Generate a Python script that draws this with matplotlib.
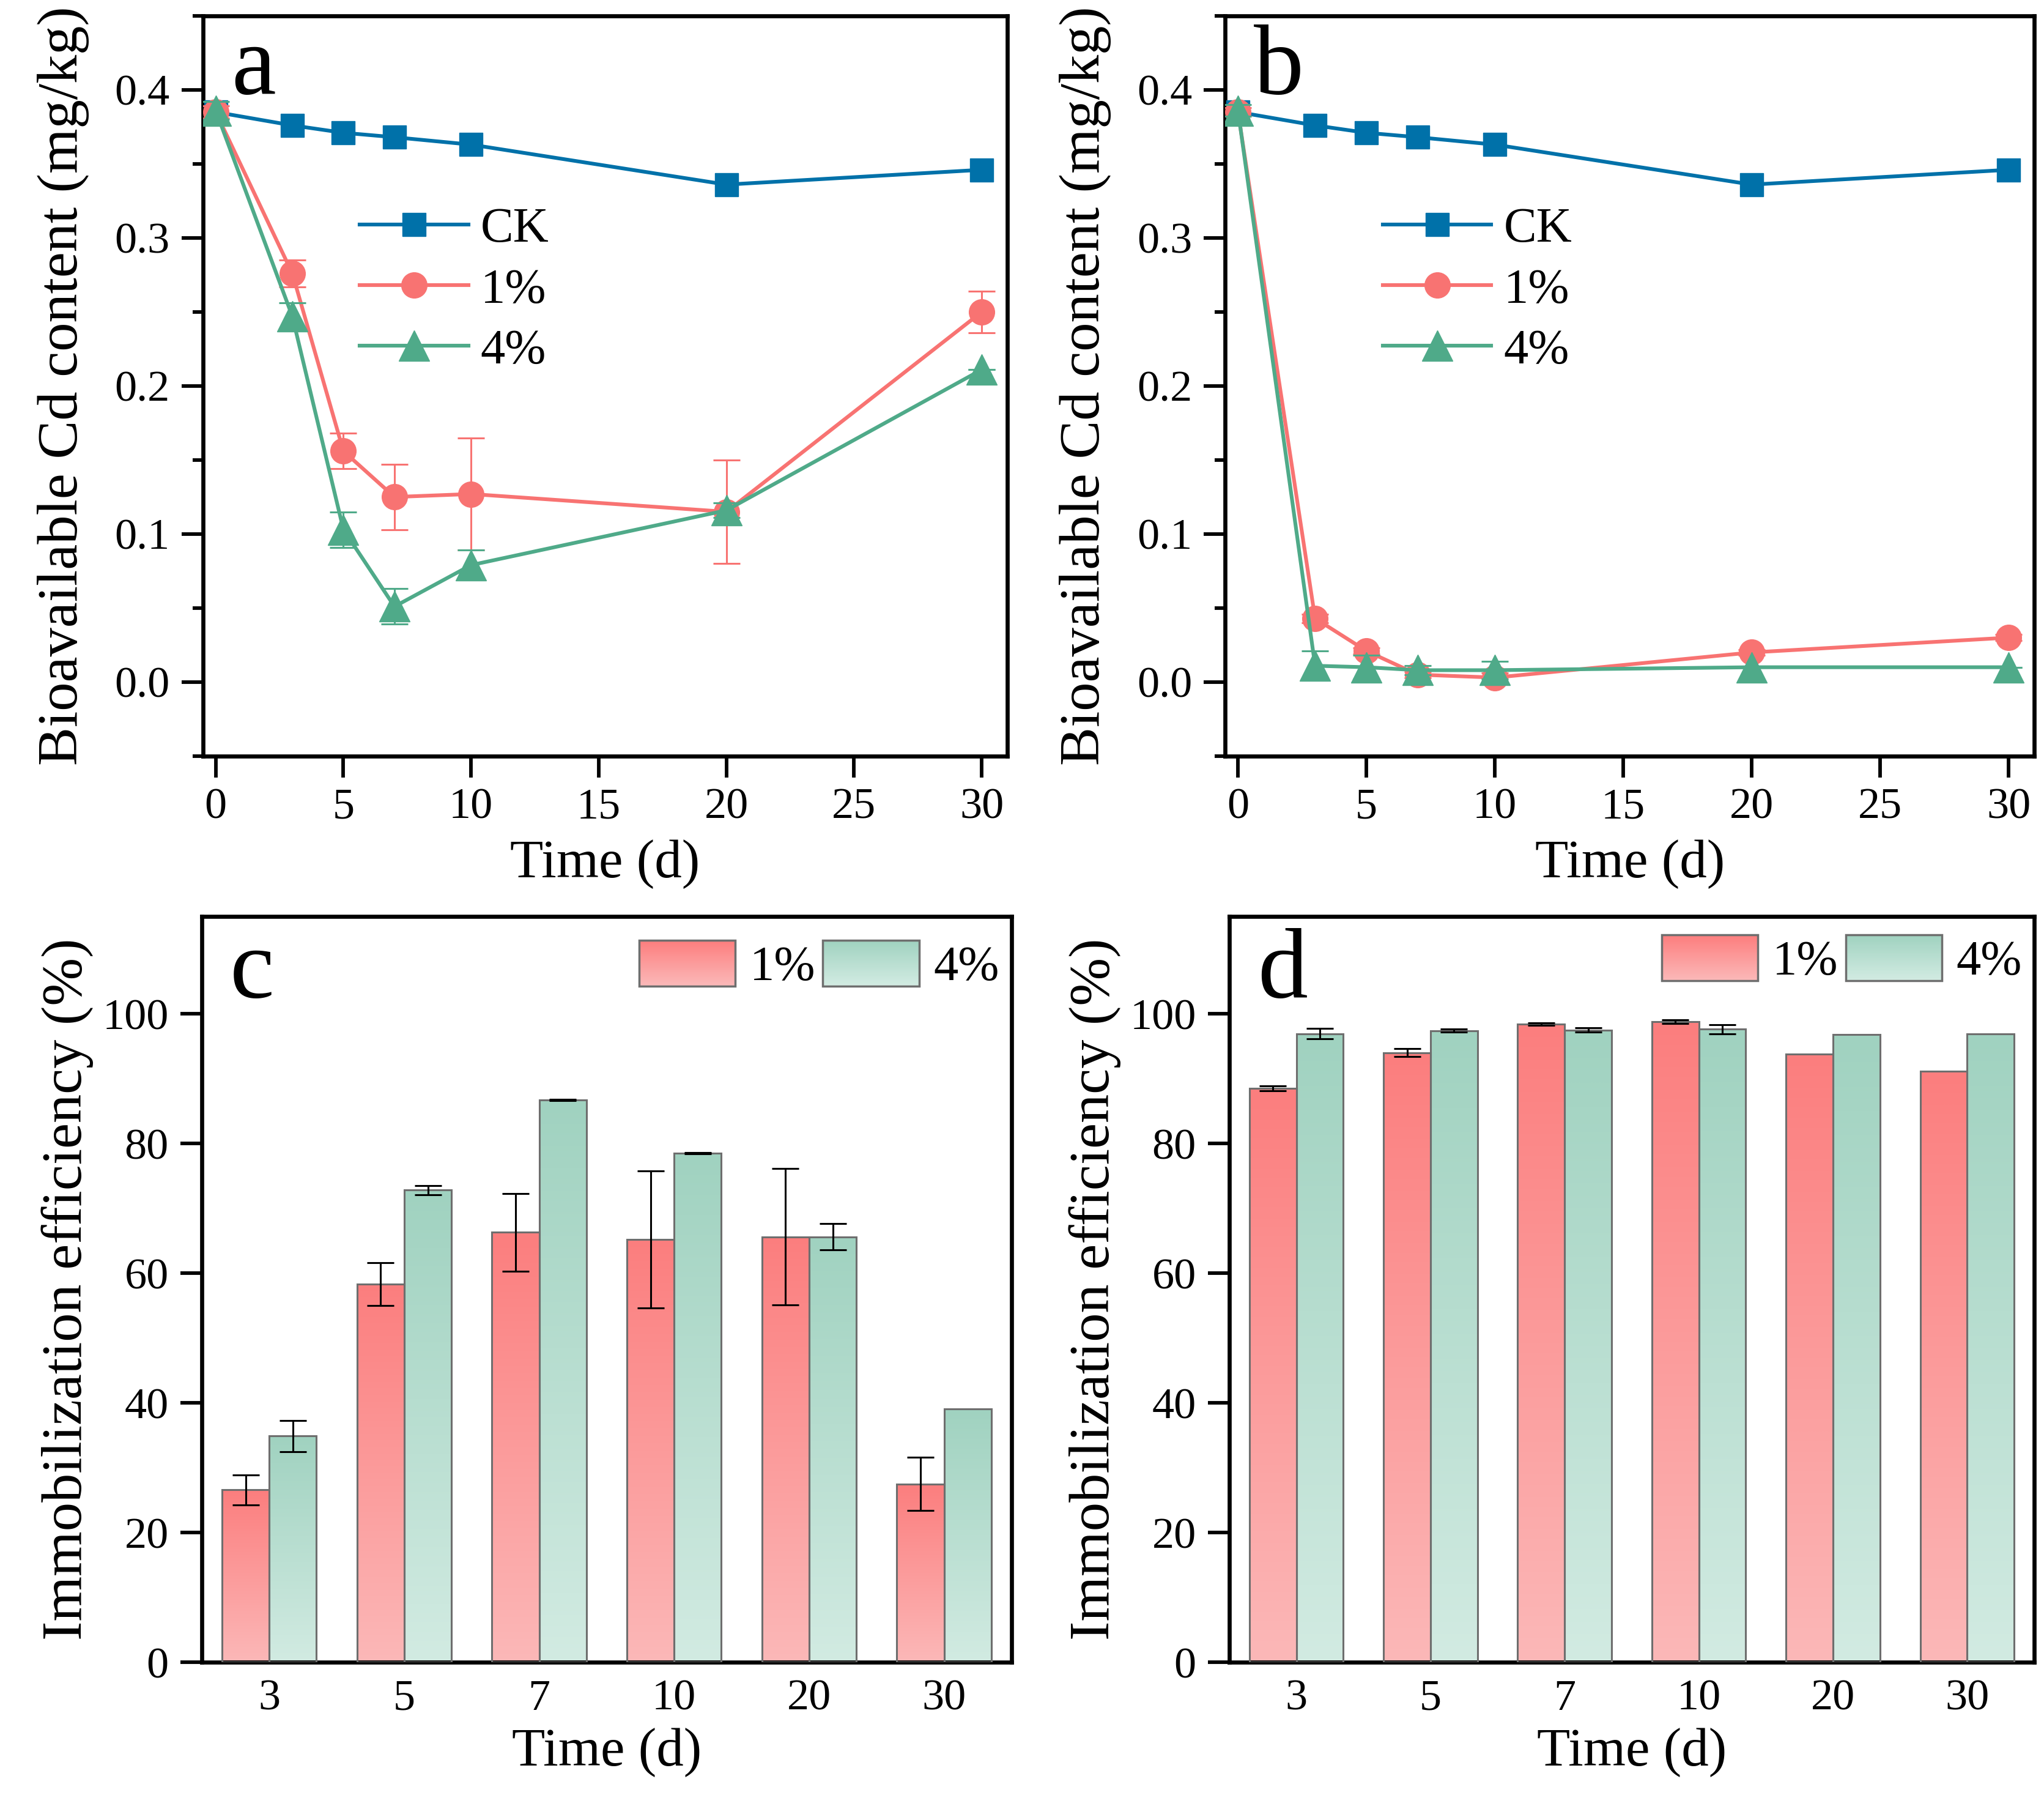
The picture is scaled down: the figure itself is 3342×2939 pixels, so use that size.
import numpy as np
import matplotlib
matplotlib.use('Agg')
import matplotlib.pyplot as plt
from matplotlib.legend_handler import HandlerBase
from matplotlib.patches import Rectangle, Patch
from matplotlib.colors import to_rgb, LinearSegmentedColormap
from matplotlib.ticker import MultipleLocator

plt.rcParams['font.family'] = ['Liberation Serif', 'DejaVu Serif']

# ---- data ----
days = [0, 3, 5, 7, 10, 20, 30]

ck_a = [0.385, 0.376, 0.371, 0.368, 0.363, 0.336, 0.346]
one_a = [0.385, 0.276, 0.156, 0.125, 0.127, 0.115, 0.250]
one_a_err = [0.004, 0.009, 0.012, 0.022, 0.038, 0.035, 0.014]
four_a = [0.386, 0.247, 0.103, 0.051, 0.079, 0.116, 0.211]
four_a_err = [0.006, 0.009, 0.012, 0.012, 0.010, 0.005, 0.0]

ck_b = [0.385, 0.376, 0.371, 0.368, 0.363, 0.336, 0.346]
one_b = [0.385, 0.043, 0.021, 0.005, 0.003, 0.020, 0.030]
one_b_err = [0.003, 0.003, 0.002, 0.002, 0.003, 0.002, 0.002]
four_b = [0.386, 0.011, 0.010, 0.008, 0.008, 0.010, 0.010]
four_b_err = [0.004, 0.010, 0.008, 0.003, 0.006, 0.0, 0.0]

bar_days = ['3', '5', '7', '10', '20', '30']
eff_c_1 = [26.6, 58.3, 66.3, 65.2, 65.6, 27.5]
eff_c_1_err = [2.3, 3.3, 6.0, 10.6, 10.5, 4.1]
eff_c_4 = [34.9, 72.8, 86.7, 78.5, 65.6, 39.1]
eff_c_4_err = [2.4, 0.7, 0.1, 0.1, 2.0, 0.0]

eff_d_1 = [88.5, 94.0, 98.4, 98.8, 93.8, 91.1]
eff_d_1_err = [0.4, 0.6, 0.2, 0.3, 0.0, 0.0]
eff_d_4 = [96.9, 97.4, 97.5, 97.6, 96.8, 96.9]
eff_d_4_err = [0.8, 0.2, 0.3, 0.7, 0.0, 0.0]

# ---- style ----
c_ck = '#0071A9'
c_one = '#F87372'
c_four = '#4FAA89'
red_top, red_bot = '#FC7E7E', '#FBB8B8'
grn_top, grn_bot = '#A0D2C0', '#D2EBE2'
edge_gray = '#6E6E6E'

FS_TICK = 52
FS_XLABEL = 64
FS_YLABEL = 68
FS_LEG = 58
FS_PANEL = 118
SPINE = 4.8
LW = 4.4

fig = plt.figure(figsize=(33.42, 29.39), dpi=100)


def style_axes(ax):
    for s in ax.spines.values():
        s.set_linewidth(SPINE)
    ax.tick_params(which='major', direction='out', length=25, width=4.2,
                   labelsize=FS_TICK, top=False, right=False)
    ax.tick_params(which='minor', direction='out', length=12, width=4.2,
                   top=False, right=False)


def line_panel(ax, ck, one, one_err, four, four_err, letter):
    l_ck, = ax.plot(days, ck, color=c_ck, lw=LW, marker='s', ms=28, zorder=3)
    e_one = ax.errorbar(days, one, yerr=one_err, color=c_one, lw=LW, marker='o', ms=30,
                        elinewidth=2.2, capsize=16, capthick=2.2, zorder=4)
    e_four = ax.errorbar(days, four, yerr=four_err, color=c_four, lw=LW, marker='^', ms=36,
                         elinewidth=2.2, capsize=16, capthick=2.2, zorder=5)
    ax.set_xlim(-0.5, 31)
    ax.set_ylim(-0.05, 0.45)
    ax.set_xticks([0, 5, 10, 15, 20, 25, 30])
    ax.set_yticks([0.0, 0.1, 0.2, 0.3, 0.4])
    ax.yaxis.set_minor_locator(MultipleLocator(0.05))
    style_axes(ax)
    ax.tick_params(axis='y', which='major', pad=14)
    ax.tick_params(axis='x', which='major', pad=12)
    ax.set_xlabel('Time (d)', fontsize=FS_XLABEL, labelpad=14)
    ax.set_ylabel('Bioavailable Cd content (mg/kg)', fontsize=FS_YLABEL, labelpad=30)
    ax.text(0.035, 0.895, letter, transform=ax.transAxes, fontsize=FS_PANEL,
            ha='left', va='baseline')
    ax.legend([l_ck, e_one[0], e_four[0]], ['CK', '1%', '4%'], loc='center left',
              bbox_to_anchor=(0.195, 0.629), frameon=False,
              fontsize=FS_LEG, handlelength=2.2, handletextpad=0.25,
              labelspacing=0.32, borderpad=0, numpoints=1, borderaxespad=0)


class GradHandler(HandlerBase):
    def __init__(self, top, bot):
        super().__init__()
        self.top = np.array(to_rgb(top))
        self.bot = np.array(to_rgb(bot))

    def create_artists(self, legend, orig_handle, xdescent, ydescent,
                       width, height, fontsize, trans):
        arts = []
        n = 40
        for i in range(n):
            f = i / (n - 1)
            col = self.bot * (1 - f) + self.top * f
            arts.append(Rectangle((-xdescent, -ydescent + height * i / n), width,
                                  height / n * 1.05, facecolor=col, edgecolor='none',
                                  transform=trans))
        arts.append(Rectangle((-xdescent, -ydescent), width, height, fill=False,
                              edgecolor=edge_gray, lw=2.5, transform=trans))
        return arts


def grad_bars(ax, x, vals, top, bot):
    cmap = LinearSegmentedColormap.from_list('g', [bot, top])
    grad = np.linspace(1, 0, 256).reshape(-1, 1)
    bars = ax.bar(x, vals, width=0.35, facecolor='none', edgecolor=edge_gray,
                  lw=2.2, zorder=3)
    for r in bars:
        x0, w, h = r.get_x(), r.get_width(), r.get_height()
        ax.imshow(grad, extent=(x0, x0 + w, 0, h), cmap=cmap, aspect='auto',
                  origin='upper', zorder=2, interpolation='bilinear')
    return bars


def bar_panel(ax, v1, e1, v4, e4, letter, leg_anchor):
    x = np.arange(len(bar_days))
    grad_bars(ax, x - 0.175, v1, red_top, red_bot)
    grad_bars(ax, x + 0.175, v4, grn_top, grn_bot)
    for xs, vals, errs in ((x - 0.175, v1, e1), (x + 0.175, v4, e4)):
        for xi, v, e in zip(xs, vals, errs):
            if e > 0:
                ax.errorbar([xi], [v], yerr=[e], fmt='none', ecolor='black',
                            elinewidth=2.2, capsize=16, capthick=2.2, zorder=4)
    ax.set_xlim(-0.5, 5.5)
    ax.set_ylim(0, 115)
    ax.set_xticks(x)
    ax.set_xticklabels(bar_days)
    ax.set_yticks([0, 20, 40, 60, 80, 100])
    style_axes(ax)
    ax.tick_params(axis='x', length=0, pad=20)
    ax.tick_params(axis='y', pad=14)
    ax.set_xlabel('Time (d)', fontsize=FS_XLABEL, labelpad=10)
    ax.set_ylabel('Immobilization efficiency (%)', fontsize=FS_YLABEL, labelpad=10)
    ax.text(0.035, 0.892, letter, transform=ax.transAxes, fontsize=FS_PANEL,
            ha='left', va='baseline')
    p1 = Patch(label='1%')
    p4 = Patch(label='4%')
    ax.legend([p1, p4], ['1%', '4%'], ncol=2, loc='upper right',
              bbox_to_anchor=leg_anchor, frameon=False, fontsize=FS_LEG,
              handlelength=1.95, handleheight=1.05, handletextpad=0.3,
              columnspacing=0.15, borderpad=0, borderaxespad=0,
              handler_map={p1: GradHandler(red_top, red_bot),
                           p4: GradHandler(grn_top, grn_bot)})


ax_a = fig.add_axes([0.0993, 0.5795, 0.3935, 0.4117])
ax_b = fig.add_axes([0.5994, 0.5795, 0.3959, 0.4117])
ax_c = fig.add_axes([0.0987, 0.0755, 0.3962, 0.4148])
ax_d = fig.add_axes([0.6014, 0.0755, 0.3938, 0.4148])

line_panel(ax_a, ck_a, one_a, one_a_err, four_a, four_a_err, 'a')
line_panel(ax_b, ck_b, one_b, one_b_err, four_b, four_b_err, 'b')
bar_panel(ax_c, eff_c_1, eff_c_1_err, eff_c_4, eff_c_4_err, 'c', (0.985, 0.968))
bar_panel(ax_d, eff_d_1, eff_d_1_err, eff_d_4, eff_d_4_err, 'd', (0.985, 0.975))

fig.savefig('out.png', dpi=100)
